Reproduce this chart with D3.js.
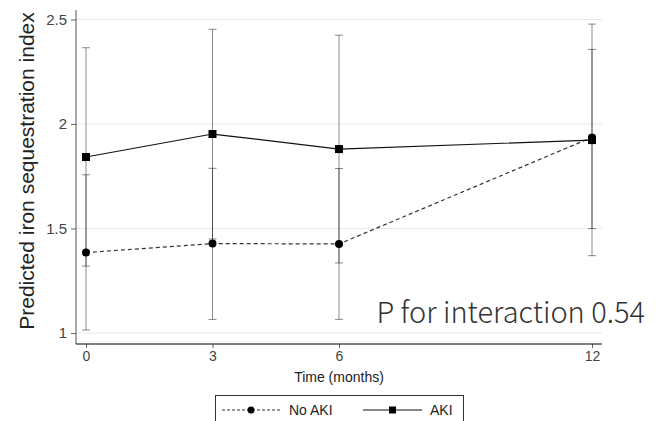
<!DOCTYPE html>
<html>
<head>
<meta charset="utf-8">
<script src="https://cdn.jsdelivr.net/npm/d3@7"></script>
<style>
  body { margin: 0; background: #fff; }
  svg { display: block; }
</style>
</head>
<body>
<svg id="chart" width="662" height="421"></svg>
<script>
// values
const months = [0, 3, 6, 12];
const xTicks = [0, 3, 6, 12];
const yTicks = [1, 1.5, 2, 2.5];
const yTickLabels = ["1", "1.5", "2", "2.5"];

const noAki = [1.385, 1.428, 1.426, 1.936];
const noAkiLo = [1.014, 1.065, 1.065, 1.50];
const noAkiHi = [1.757, 1.788, 1.787, 2.357];

const aki = [1.842, 1.952, 1.880, 1.923];
const akiLo = [1.32, 1.45, 1.335, 1.37];
const akiHi = [2.365, 2.453, 2.425, 2.478];

var svg = d3.select("#chart");

var x = d3.scaleLinear().domain([0, 12]).range([86, 592]);
var y = d3.scaleLinear().domain([1, 2.5]).range([333, 19.5]);

var plotLeft = 76, plotRight = 602, plotTop = 10, plotBottom = 344;

// gridlines
svg.append("g")
  .selectAll("line")
  .data(yTicks)
  .join("line")
  .attr("x1", plotLeft)
  .attr("x2", plotRight)
  .attr("y1", d => y(d))
  .attr("y2", d => y(d))
  .attr("stroke", "#e8e8e8")
  .attr("stroke-width", 1);

// y axis
var yAxis = d3.axisLeft(y)
  .tickValues(yTicks)
  .tickFormat((d, i) => yTickLabels[i])
  .tickSize(5)
  .tickPadding(4);
var gy = svg.append("g")
  .attr("transform", "translate(" + plotLeft + ",0)")
  .call(yAxis);
gy.select(".domain").remove();
gy.selectAll(".tick line").attr("stroke", "#666");
gy.selectAll(".tick text")
  .attr("fill", "#444")
  .style("font-family", "Liberation Sans, Arial, sans-serif")
  .style("font-size", "15px");
svg.append("line")
  .attr("x1", plotLeft).attr("x2", plotLeft)
  .attr("y1", plotTop).attr("y2", plotBottom)
  .attr("stroke", "#555");

// x axis
var xAxis = d3.axisBottom(x)
  .tickValues(xTicks)
  .tickSize(4)
  .tickPadding(3);
var gx = svg.append("g")
  .attr("transform", "translate(0," + plotBottom + ")")
  .call(xAxis);
gx.select(".domain").remove();
gx.selectAll(".tick line").attr("stroke", "#666");
gx.selectAll(".tick text")
  .attr("fill", "#444")
  .style("font-family", "Liberation Sans, Arial, sans-serif")
  .style("font-size", "14px");
svg.append("line")
  .attr("x1", plotLeft).attr("x2", plotRight)
  .attr("y1", plotBottom).attr("y2", plotBottom)
  .attr("stroke", "#000");

// axis titles
svg.append("text")
  .attr("transform", "translate(34,171) rotate(-90)")
  .attr("text-anchor", "middle")
  .attr("fill", "#222")
  .style("font-family", "Liberation Sans, Arial, sans-serif")
  .style("font-size", "21px")
  .text("Predicted iron sequestration index");

svg.append("text")
  .attr("x", (plotLeft + plotRight) / 2)
  .attr("y", 382)
  .attr("text-anchor", "middle")
  .attr("fill", "#222")
  .style("font-family", "Liberation Sans, Arial, sans-serif")
  .style("font-size", "14px")
  .text("Time (months)");

// error bars for both groups
function errorBars(lo, hi) {
  var g = svg.append("g")
    .attr("stroke", "#000")
    .attr("stroke-opacity", 0.45);
  g.selectAll("line.v")
    .data(months)
    .join("line")
    .attr("class", "v")
    .attr("x1", d => x(d)).attr("x2", d => x(d))
    .attr("y1", (d, i) => y(lo[i]))
    .attr("y2", (d, i) => y(hi[i]));
  [lo, hi].forEach(function (arr) {
    g.append("g")
      .selectAll("line")
      .data(months)
      .join("line")
      .attr("x1", d => x(d) - 4).attr("x2", d => x(d) + 4)
      .attr("y1", (d, i) => y(arr[i]))
      .attr("y2", (d, i) => y(arr[i]));
  });
}
errorBars(akiLo, akiHi);
errorBars(noAkiLo, noAkiHi);

// lines
var line = d3.line()
  .x((d, i) => x(months[i]))
  .y(d => y(d));

svg.append("path")
  .datum(noAki)
  .attr("d", line)
  .attr("fill", "none")
  .attr("stroke", "#333")
  .attr("stroke-width", 1.2)
  .attr("stroke-dasharray", "4,3");

svg.append("path")
  .datum(aki)
  .attr("d", line)
  .attr("fill", "none")
  .attr("stroke", "#111")
  .attr("stroke-width", 1.2);

// markers
svg.append("g")
  .selectAll("circle")
  .data(noAki)
  .join("circle")
  .attr("cx", (d, i) => x(months[i]))
  .attr("cy", d => y(d))
  .attr("r", 4)
  .attr("fill", "#000");

svg.append("g")
  .selectAll("rect")
  .data(aki)
  .join("rect")
  .attr("x", (d, i) => x(months[i]) - 4)
  .attr("y", d => y(d) - 4)
  .attr("width", 8)
  .attr("height", 8)
  .attr("fill", "#000");

// annotation
svg.append("text")
  .attr("x", 645)
  .attr("y", 323)
  .attr("text-anchor", "end")
  .attr("fill", "#333")
  .style("font-family", "Noto Sans CJK JP, Noto Sans, sans-serif")
  .style("font-weight", 300)
  .style("font-size", "29px")
  .text("P for interaction 0.54");

// legend
var legend = svg.append("g");
legend.append("rect")
  .attr("x", 215.5).attr("y", 395.5)
  .attr("width", 248).attr("height", 40)
  .attr("fill", "#fff")
  .attr("stroke", "#333");

legend.append("line")
  .attr("x1", 222).attr("x2", 280)
  .attr("y1", 410).attr("y2", 410)
  .attr("stroke", "#333")
  .attr("stroke-dasharray", "3,2");
legend.append("circle")
  .attr("cx", 251).attr("cy", 410).attr("r", 3.5)
  .attr("fill", "#000");
legend.append("text")
  .attr("x", 289).attr("y", 415)
  .attr("fill", "#222")
  .style("font-family", "Liberation Sans, Arial, sans-serif")
  .style("font-size", "14px")
  .text("No AKI");

legend.append("line")
  .attr("x1", 363).attr("x2", 422)
  .attr("y1", 410).attr("y2", 410)
  .attr("stroke", "#111");
legend.append("rect")
  .attr("x", 389).attr("y", 406.5)
  .attr("width", 7).attr("height", 7)
  .attr("fill", "#000");
legend.append("text")
  .attr("x", 430).attr("y", 415)
  .attr("fill", "#222")
  .style("font-family", "Liberation Sans, Arial, sans-serif")
  .style("font-size", "14px")
  .text("AKI");
</script>
</body>
</html>
